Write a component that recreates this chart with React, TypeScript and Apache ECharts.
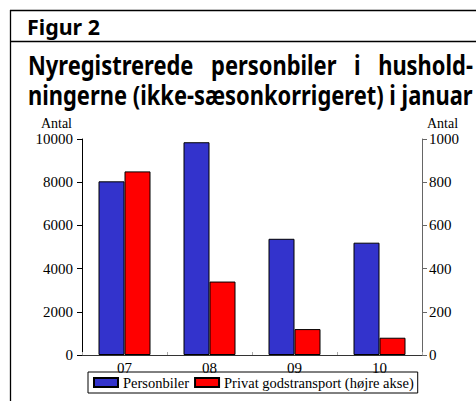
import React, { useEffect, useRef } from "react";
import * as echarts from "echarts";

const categories = ["07", "08", "09", "10"];
const personbiler = [8040, 9850, 5380, 5200];
const godstransport = [850, 340, 120, 80];
const leftAxis = { min: 0, max: 10000, interval: 2000 };
const rightAxis = { min: 0, max: 1000, interval: 200 };
const seriesNames = ["Personbiler", "Privat godstransport (højre akse)"];
const figLabel = "Figur 2";
const titleLine1 = ["Nyregistrerede", "personbiler", "i", "hushold-"];
const titleLine2 = "ningerne (ikke-sæsonkorrigeret) i januar";
const axisName = "Antal";

const SANS = "'Noto Sans', 'Open Sans', sans-serif";
const SERIF = "'Liberation Serif', 'DejaVu Serif', serif";

function measure(text: string, font: string): number {
  const c = document.createElement("canvas").getContext("2d");
  if (!c) return text.length * 10;
  c.font = font;
  return c.measureText(text).width;
}

export default function App() {
  const ref = useRef<HTMLDivElement>(null);
  useEffect(() => {
    document.body.style.margin = "0";
    if (!ref.current) return;
    const chart = echarts.init(ref.current, undefined, { renderer: "svg" });

    const TS = 26;
    const titleFont = `bold ${TS}px 'Noto Sans'`;
    const left = 28;
    const right = 473;
    const s2 = (right - left) / measure(titleLine2, titleFont);
    const figFont = `bold 21px 'Noto Sans'`;
    const sf = 73 / measure(figLabel, figFont);

    // justify line 1 across the same width
    const widths = titleLine1.map((w) => measure(w, titleFont) * s2);
    const total = widths.reduce((a, b) => a + b, 0);
    const gap = (right - left - total) / (titleLine1.length - 1);
    const line1X: number[] = [];
    let cx = left;
    widths.forEach((w) => {
      line1X.push(cx);
      cx += w + gap;
    });

    const word = (text: string, x: number, y: number, s: number, size: number) => ({
      type: "text",
      x,
      y,
      scaleX: s,
      style: {
        text,
        x: 0,
        y: 0,
        align: "left",
        verticalAlign: "middle",
        fontFamily: SANS,
        fontWeight: "bold",
        fontSize: size,
        fill: "#000",
      },
    });

    const plain = (v: number) => String(v);

    chart.setOption({
      animation: false,
      backgroundColor: "#fff",
      grid: { left: 82, right: 54, top: 139, bottom: 46, containLabel: false },
      legend: {
        data: seriesNames,
        left: 88,
        top: 372,
        orient: "horizontal",
        borderColor: "#000",
        borderWidth: 1,
        padding: [3, 4, 3, 5],
        itemWidth: 24,
        itemHeight: 9,
        itemGap: 5,
        icon: "rect",
        textStyle: { fontFamily: SERIF, fontSize: 14.5, color: "#000" },
      },
      xAxis: {
        type: "category",
        data: categories,
        axisLine: { lineStyle: { color: "#333", width: 1 } },
        axisTick: { show: true, inside: true, length: 3, lineStyle: { color: "#aaa" } },
        axisLabel: { color: "#000", fontFamily: SERIF, fontSize: 15, margin: 5 },
      },
      yAxis: [
        {
          type: "value",
          position: "left",
          ...leftAxis,
          axisLine: { show: true, lineStyle: { color: "#000", width: 1 } },
          axisTick: { show: true, length: 5, lineStyle: { color: "#000" } },
          splitLine: { show: false },
          axisLabel: { color: "#000", fontFamily: SERIF, fontSize: 15, margin: 9, formatter: plain },
        },
        {
          type: "value",
          position: "right",
          ...rightAxis,
          axisLine: { show: true, lineStyle: { color: "#666", width: 1 } },
          axisTick: { show: true, length: 5, lineStyle: { color: "#666" } },
          splitLine: { show: false },
          axisLabel: { color: "#000", fontFamily: SERIF, fontSize: 15, margin: 7, formatter: plain },
        },
      ],
      series: [
        {
          name: seriesNames[0],
          type: "bar",
          yAxisIndex: 0,
          data: personbiler,
          barWidth: 26,
          barGap: "0%",
          itemStyle: { color: "#3333CC", borderColor: "#000", borderWidth: 1 },
        },
        {
          name: seriesNames[1],
          type: "bar",
          yAxisIndex: 1,
          data: godstransport,
          barWidth: 26,
          barGap: "0%",
          itemStyle: { color: "#FF0000", borderColor: "#000", borderWidth: 1 },
        },
      ],
      graphic: [
        { type: "line", shape: { x1: 10, y1: 10.5, x2: 476, y2: 10.5 }, style: { stroke: "#000", lineWidth: 1.3 } },
        { type: "line", shape: { x1: 10.5, y1: 10, x2: 10.5, y2: 401 }, style: { stroke: "#000", lineWidth: 1.3 } },
        { type: "line", shape: { x1: 10, y1: 41.5, x2: 476, y2: 41.5 }, style: { stroke: "#000", lineWidth: 1.3 } },
        word(figLabel, 27, 27, sf, 21),
        ...titleLine1.map((w, i) => word(w, line1X[i], 65, s2, TS)),
        word(titleLine2, left, 95, s2, TS),
        {
          type: "text",
          x: 72,
          y: 123,
          style: { text: axisName, align: "right", verticalAlign: "middle", fontFamily: SERIF, fontSize: 14, fill: "#000" },
        },
        {
          type: "text",
          x: 427,
          y: 123,
          style: { text: axisName, align: "left", verticalAlign: "middle", fontFamily: SERIF, fontSize: 14, fill: "#000" },
        },
      ],
    });
    return () => chart.dispose();
  }, []);
  return <div ref={ref} style={{ width: 476, height: 401 }} />;
}
